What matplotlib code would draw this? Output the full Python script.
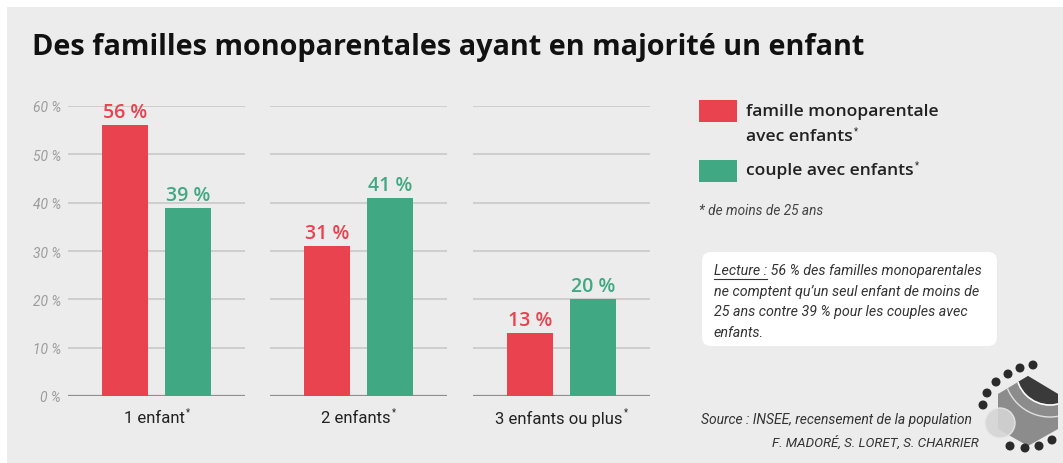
import matplotlib.pyplot as plt
from matplotlib.patches import Rectangle, FancyBboxPatch, Circle, Polygon

categories = ['1 enfant', '2 enfants', '3 enfants ou plus']
mono = [56, 31, 13]
couple = [39, 41, 20]
yticks = [0, 10, 20, 30, 40, 50, 60]

RED = '#E8434F'
GREEN = '#40A882'
BG = '#ECECEC'
W, H = 1063, 464
HEAD = ['Open Sans', 'DejaVu Sans']

plt.rcParams['font.family'] = ['Roboto', 'DejaVu Sans']

fig = plt.figure(figsize=(W / 100, H / 100), dpi=100)
fig.patch.set_facecolor('white')
renderer = fig.canvas.get_renderer()

# background layer in pixel coordinates
bg = fig.add_axes([0, 0, 1, 1], zorder=-1)
bg.set_xlim(0, W)
bg.set_ylim(H, 0)
bg.axis('off')
bg.add_patch(Rectangle((7, 8), W - 7, H - 8, color=BG, lw=0))


def star_after(txt, size=7, dy=-6):
    # small raised asterisk right after a text (pixel coords of bg)
    bb = txt.get_window_extent(renderer)
    x = bb.x1 + 1
    y = H - (bb.y0 + bb.y1) / 2 + dy
    bg.text(x, y, '*', fontsize=size, color=txt.get_color(), ha='left', va='center')


bg.text(32, 47, 'Des familles monoparentales ayant en majorité un enfant',
        fontsize=20.8, fontweight='bold', color='#111111', va='center', ha='left',
        family=HEAD)

# one axes per group so the gridlines are split
lefts = [68, 270, 473]
ax_w = 177
top, bottom = 107, 397
cat_labels = []
for i, cat in enumerate(categories):
    ax = fig.add_axes([lefts[i] / W, 1 - bottom / H, ax_w / W, (bottom - top) / H])
    ax.set_facecolor('none')
    ax.set_xlim(-1.4, 1.4)
    ax.set_ylim(0, 60)
    for s in ax.spines.values():
        s.set_visible(False)
    ax.set_yticks(yticks)
    ax.yaxis.grid(True, color='#C9C9C9', lw=1.2)
    ax.set_axisbelow(True)
    ax.axhline(0, color='#8E8E8E', lw=1.6, zorder=1)
    ax.tick_params(length=0, pad=5, labelsize=10, labelcolor='#9C9C9C')
    if i == 0:
        ax.set_yticklabels([f'{t} %' for t in yticks], fontstyle='italic')
    else:
        ax.set_yticklabels([])
    ax.set_xticks([])
    ax.bar(-0.5, mono[i], width=0.73, color=RED, zorder=2)
    ax.bar(0.5, couple[i], width=0.73, color=GREEN, zorder=2)
    ax.text(-0.5, mono[i] + 0.6, f'{mono[i]} %', ha='center', va='bottom',
            color=RED, fontsize=14, fontweight='semibold', family=HEAD)
    ax.text(0.5, couple[i] + 0.6, f'{couple[i]} %', ha='center', va='bottom',
            color=GREEN, fontsize=14, fontweight='semibold', family=HEAD)
    t = ax.text(-0.04, -4.5, cat, ha='center', va='center', fontsize=12,
                color='#222222', clip_on=False)
    cat_labels.append(t)

# legend
bg.add_patch(Rectangle((699, 101), 38, 22, color=RED, lw=0))
bg.add_patch(Rectangle((699, 161), 38, 22, color=GREEN, lw=0))
leg_kw = dict(fontsize=12.6, fontweight='semibold', color='#222222', va='center', family=HEAD)
bg.text(746, 112, 'famille monoparentale', **leg_kw)
l2 = bg.text(746, 137, 'avec enfants', **leg_kw)
l3 = bg.text(746, 171, 'couple avec enfants', **leg_kw)
bg.text(699, 211, '* de moins de 25 ans', fontsize=9.8, fontstyle='italic',
        color='#444444', va='center')

# reading box
bg.add_patch(FancyBboxPatch((702, 253), 295, 94, boxstyle='round,pad=0,rounding_size=9',
                            facecolor='white', edgecolor='none'))
lines = ['Lecture : 56 % des familles monoparentales',
         'ne comptent qu\u2019un seul enfant de moins de',
         '25 ans contre 39 % pour les couples avec',
         'enfants.']
for k, ln in enumerate(lines):
    bg.text(714, 271 + k * 20.7, ln, fontsize=10.3, fontstyle='italic', color='#333333',
            va='center')
probe = bg.text(714, 271, 'Lecture :', fontsize=10.3, fontstyle='italic', alpha=0, va='center')
fig.canvas.draw()
bb = probe.get_window_extent(renderer)
bg.plot([714, 714 + bb.width], [279.5, 279.5], color='#333333', lw=0.8)

for t in cat_labels + [l2, l3]:
    star_after(t)

# source
bg.text(972, 420, 'Source : INSEE, recensement de la population', fontsize=10,
        fontstyle='italic', color='#333333', ha='right', va='center')
bg.text(979, 443, 'F. MADORÉ, S. LORET, S. CHARRIER', fontsize=9.6,
        fontstyle='italic', color='#333333', ha='right', va='center')

# logo
hexa = Polygon([(1028, 377), (1058, 395), (1058, 430), (1028, 447), (998, 430), (998, 395)],
               closed=True, facecolor='#8C8C8C', edgecolor='none')
bg.add_patch(hexa)
dark = Circle((1050, 372), 34, facecolor='#3A3A3A', edgecolor='white', lw=1.2)
bg.add_patch(dark)
dark.set_clip_path(hexa)
ring = Circle((1050, 372), 46, facecolor='none', edgecolor='#E0E0E0', lw=1.0)
bg.add_patch(ring)
ring.set_clip_path(hexa)
bg.add_patch(Circle((1000, 424), 15, facecolor='#D5D5D5', edgecolor='#E8E8E8', alpha=0.9))
for cx, cy in [(1033, 366), (1020, 369), (1008, 375), (996, 383), (987, 394), (983, 406),
               (1010, 447), (1025, 449), (1039, 447), (1052, 441)]:
    bg.add_patch(Circle((cx, cy), 3.8, color='#2A2A2A'))

fig.savefig('out.png', dpi=100)
